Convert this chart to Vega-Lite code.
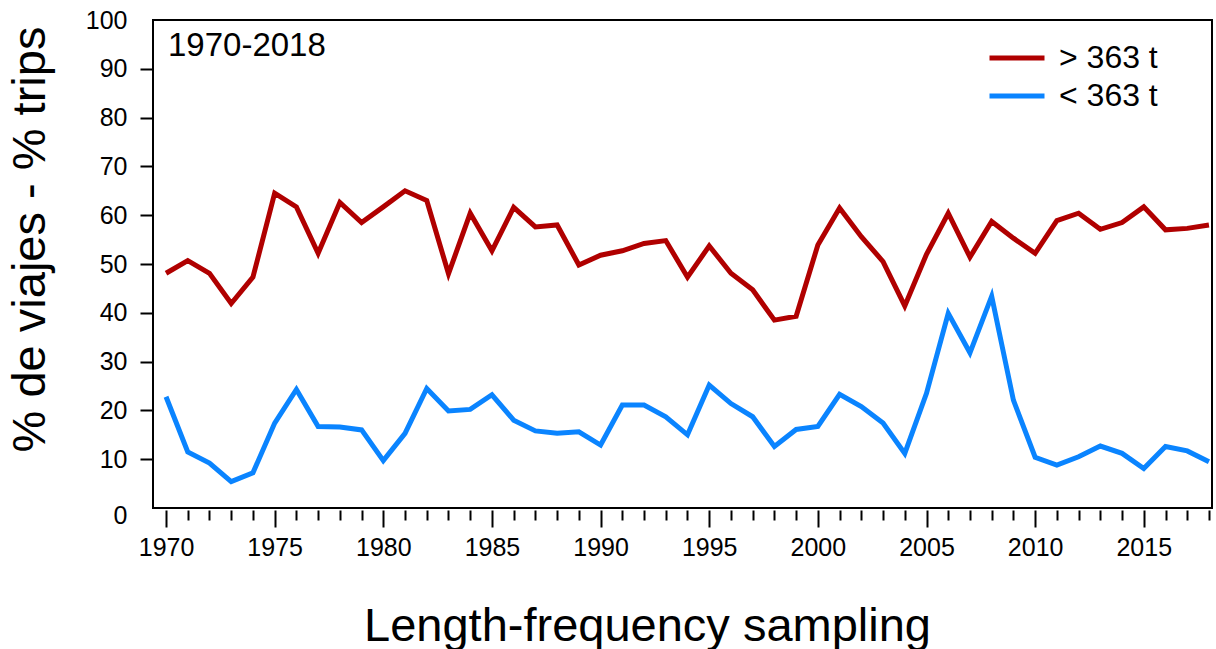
{
  "$schema": "https://vega.github.io/schema/vega-lite/v6.json",
  "width": 1059,
  "height": 488,
  "autosize": "none",
  "padding": {"left": 153, "top": 20, "right": 4, "bottom": 141},
  "background": "white",
  "config": {
    "font": "Liberation Sans",
    "view": {"stroke": "black", "strokeWidth": 2}
  },
  "title": {
    "text": "1970-2018",
    "anchor": "start",
    "frame": "group",
    "orient": "top",
    "offset": -37,
    "dx": 15,
    "dy": 44,
    "baseline": "alphabetic",
    "fontSize": 33,
    "fontWeight": "normal",
    "color": "black",
    "font": "Liberation Sans"
  },
  "data": {
    "values": [
      {"year": 1970, "series": "> 363 t", "pct": 48.1},
      {"year": 1971, "series": "> 363 t", "pct": 50.7},
      {"year": 1972, "series": "> 363 t", "pct": 48.1},
      {"year": 1973, "series": "> 363 t", "pct": 41.9},
      {"year": 1974, "series": "> 363 t", "pct": 47.3},
      {"year": 1975, "series": "> 363 t", "pct": 64.5},
      {"year": 1976, "series": "> 363 t", "pct": 61.7},
      {"year": 1977, "series": "> 363 t", "pct": 52.2},
      {"year": 1978, "series": "> 363 t", "pct": 62.6},
      {"year": 1979, "series": "> 363 t", "pct": 58.5},
      {"year": 1980, "series": "> 363 t", "pct": 61.7},
      {"year": 1981, "series": "> 363 t", "pct": 65.0},
      {"year": 1982, "series": "> 363 t", "pct": 63.0},
      {"year": 1983, "series": "> 363 t", "pct": 48.0},
      {"year": 1984, "series": "> 363 t", "pct": 60.4},
      {"year": 1985, "series": "> 363 t", "pct": 52.7},
      {"year": 1986, "series": "> 363 t", "pct": 61.6},
      {"year": 1987, "series": "> 363 t", "pct": 57.6},
      {"year": 1988, "series": "> 363 t", "pct": 58.0},
      {"year": 1989, "series": "> 363 t", "pct": 49.8},
      {"year": 1990, "series": "> 363 t", "pct": 51.8},
      {"year": 1991, "series": "> 363 t", "pct": 52.7},
      {"year": 1992, "series": "> 363 t", "pct": 54.2},
      {"year": 1993, "series": "> 363 t", "pct": 54.8},
      {"year": 1994, "series": "> 363 t", "pct": 47.3},
      {"year": 1995, "series": "> 363 t", "pct": 53.7},
      {"year": 1996, "series": "> 363 t", "pct": 48.1},
      {"year": 1997, "series": "> 363 t", "pct": 44.7},
      {"year": 1998, "series": "> 363 t", "pct": 38.5},
      {"year": 1999, "series": "> 363 t", "pct": 39.3},
      {"year": 2000, "series": "> 363 t", "pct": 53.9},
      {"year": 2001, "series": "> 363 t", "pct": 61.5},
      {"year": 2002, "series": "> 363 t", "pct": 55.6},
      {"year": 2003, "series": "> 363 t", "pct": 50.5},
      {"year": 2004, "series": "> 363 t", "pct": 41.4},
      {"year": 2005, "series": "> 363 t", "pct": 52.0},
      {"year": 2006, "series": "> 363 t", "pct": 60.4},
      {"year": 2007, "series": "> 363 t", "pct": 51.4},
      {"year": 2008, "series": "> 363 t", "pct": 58.7},
      {"year": 2009, "series": "> 363 t", "pct": 55.3},
      {"year": 2010, "series": "> 363 t", "pct": 52.2},
      {"year": 2011, "series": "> 363 t", "pct": 58.9},
      {"year": 2012, "series": "> 363 t", "pct": 60.4},
      {"year": 2013, "series": "> 363 t", "pct": 57.1},
      {"year": 2014, "series": "> 363 t", "pct": 58.5},
      {"year": 2015, "series": "> 363 t", "pct": 61.7},
      {"year": 2016, "series": "> 363 t", "pct": 57.0},
      {"year": 2017, "series": "> 363 t", "pct": 57.3},
      {"year": 2018, "series": "> 363 t", "pct": 58.0},
      {"year": 1970, "series": "< 363 t", "pct": 22.8},
      {"year": 1971, "series": "< 363 t", "pct": 11.5},
      {"year": 1972, "series": "< 363 t", "pct": 9.2},
      {"year": 1973, "series": "< 363 t", "pct": 5.4},
      {"year": 1974, "series": "< 363 t", "pct": 7.2},
      {"year": 1975, "series": "< 363 t", "pct": 17.4},
      {"year": 1976, "series": "< 363 t", "pct": 24.3},
      {"year": 1977, "series": "< 363 t", "pct": 16.7},
      {"year": 1978, "series": "< 363 t", "pct": 16.6},
      {"year": 1979, "series": "< 363 t", "pct": 16.0},
      {"year": 1980, "series": "< 363 t", "pct": 9.7},
      {"year": 1981, "series": "< 363 t", "pct": 15.3},
      {"year": 1982, "series": "< 363 t", "pct": 24.5},
      {"year": 1983, "series": "< 363 t", "pct": 19.9},
      {"year": 1984, "series": "< 363 t", "pct": 20.2},
      {"year": 1985, "series": "< 363 t", "pct": 23.2},
      {"year": 1986, "series": "< 363 t", "pct": 18.0},
      {"year": 1987, "series": "< 363 t", "pct": 15.8},
      {"year": 1988, "series": "< 363 t", "pct": 15.3},
      {"year": 1989, "series": "< 363 t", "pct": 15.6},
      {"year": 1990, "series": "< 363 t", "pct": 12.9},
      {"year": 1991, "series": "< 363 t", "pct": 21.1},
      {"year": 1992, "series": "< 363 t", "pct": 21.1},
      {"year": 1993, "series": "< 363 t", "pct": 18.7},
      {"year": 1994, "series": "< 363 t", "pct": 15.0},
      {"year": 1995, "series": "< 363 t", "pct": 25.2},
      {"year": 1996, "series": "< 363 t", "pct": 21.4},
      {"year": 1997, "series": "< 363 t", "pct": 18.7},
      {"year": 1998, "series": "< 363 t", "pct": 12.6},
      {"year": 1999, "series": "< 363 t", "pct": 16.1},
      {"year": 2000, "series": "< 363 t", "pct": 16.7},
      {"year": 2001, "series": "< 363 t", "pct": 23.3},
      {"year": 2002, "series": "< 363 t", "pct": 20.8},
      {"year": 2003, "series": "< 363 t", "pct": 17.4},
      {"year": 2004, "series": "< 363 t", "pct": 11.2},
      {"year": 2005, "series": "< 363 t", "pct": 23.5},
      {"year": 2006, "series": "< 363 t", "pct": 39.9},
      {"year": 2007, "series": "< 363 t", "pct": 31.8},
      {"year": 2008, "series": "< 363 t", "pct": 43.4},
      {"year": 2009, "series": "< 363 t", "pct": 22.1},
      {"year": 2010, "series": "< 363 t", "pct": 10.4},
      {"year": 2011, "series": "< 363 t", "pct": 8.8},
      {"year": 2012, "series": "< 363 t", "pct": 10.5},
      {"year": 2013, "series": "< 363 t", "pct": 12.7},
      {"year": 2014, "series": "< 363 t", "pct": 11.2},
      {"year": 2015, "series": "< 363 t", "pct": 8.1},
      {"year": 2016, "series": "< 363 t", "pct": 12.6},
      {"year": 2017, "series": "< 363 t", "pct": 11.7},
      {"year": 2018, "series": "< 363 t", "pct": 9.5}
    ]
  },
  "mark": {"type": "line", "strokeWidth": 5},
  "encoding": {
    "x": {
      "field": "year",
      "type": "quantitative",
      "scale": {"domain": [1969.4, 2018.14], "nice": false, "zero": false},
      "axis": {
        "values": [1970,1971,1972,1973,1974,1975,1976,1977,1978,1979,1980,1981,1982,1983,1984,1985,1986,1987,1988,1989,1990,1991,1992,1993,1994,1995,1996,1997,1998,1999,2000,2001,2002,2003,2004,2005,2006,2007,2008,2009,2010,2011,2012,2013,2014,2015,2016,2017,2018],
        "format": "d",
        "labelExpr": "datum.value % 5 === 0 ? datum.label : ''",
        "tickSize": {"condition": {"test": "datum.value % 5 === 0", "value": 17}, "value": 10},
        "tickWidth": 2,
        "tickColor": "black",
        "domain": false,
        "grid": false,
        "offset": 2,
        "labelFontSize": 25,
        "labelColor": "black",
        "labelPadding": 8,
        "labelFlush": false,
        "labelOverlap": false,
        "labelBound": false,
        "title": "Length-frequency sampling",
        "titleFontSize": 47,
        "titleFontWeight": "normal",
        "titleColor": "black",
        "titleX": 494,
        "titleY": 130,
        "titleAlign": "center",
        "titleBaseline": "alphabetic"
      }
    },
    "y": {
      "field": "pct",
      "type": "quantitative",
      "scale": {"domain": [0, 100], "nice": false},
      "axis": {
        "values": [0,10,20,30,40,50,60,70,80,90,100],
        "tickSize": 13,
        "tickWidth": 2,
        "tickColor": "black",
        "tickOpacity": {"condition": {"test": "datum.value === 0 || datum.value === 100", "value": 0}, "value": 1},
        "domain": false,
        "grid": false,
        "labelFontSize": 25,
        "labelColor": "black",
        "labelPadding": 13,
        "labelOffset": {"condition": {"test": "datum.value === 0", "value": 7}, "value": 0},
        "labelFlush": false,
        "labelOverlap": false,
        "labelBound": false,
        "title": "% de viajes - % trips",
        "titleFontSize": 47,
        "titleFontWeight": "normal",
        "titleColor": "black",
        "titleAngle": -90,
        "titleX": -123,
        "titleY": 219,
        "titleAlign": "center",
        "titleBaseline": "middle"
      }
    },
    "color": {
      "field": "series",
      "type": "nominal",
      "scale": {"domain": ["> 363 t", "< 363 t"], "range": ["#B00000", "#0A84FF"]},
      "legend": {
        "orient": "none",
        "legendX": 848,
        "legendY": 22,
        "title": null,
        "padding": 0,
        "symbolType": "M-2.5,0H2.5",
        "symbolSize": 484,
        "symbolStrokeWidth": 5,
        "labelFontSize": 32,
        "labelColor": "black",
        "labelOffset": 26,
        "rowPadding": 6
      }
    }
  }
}
